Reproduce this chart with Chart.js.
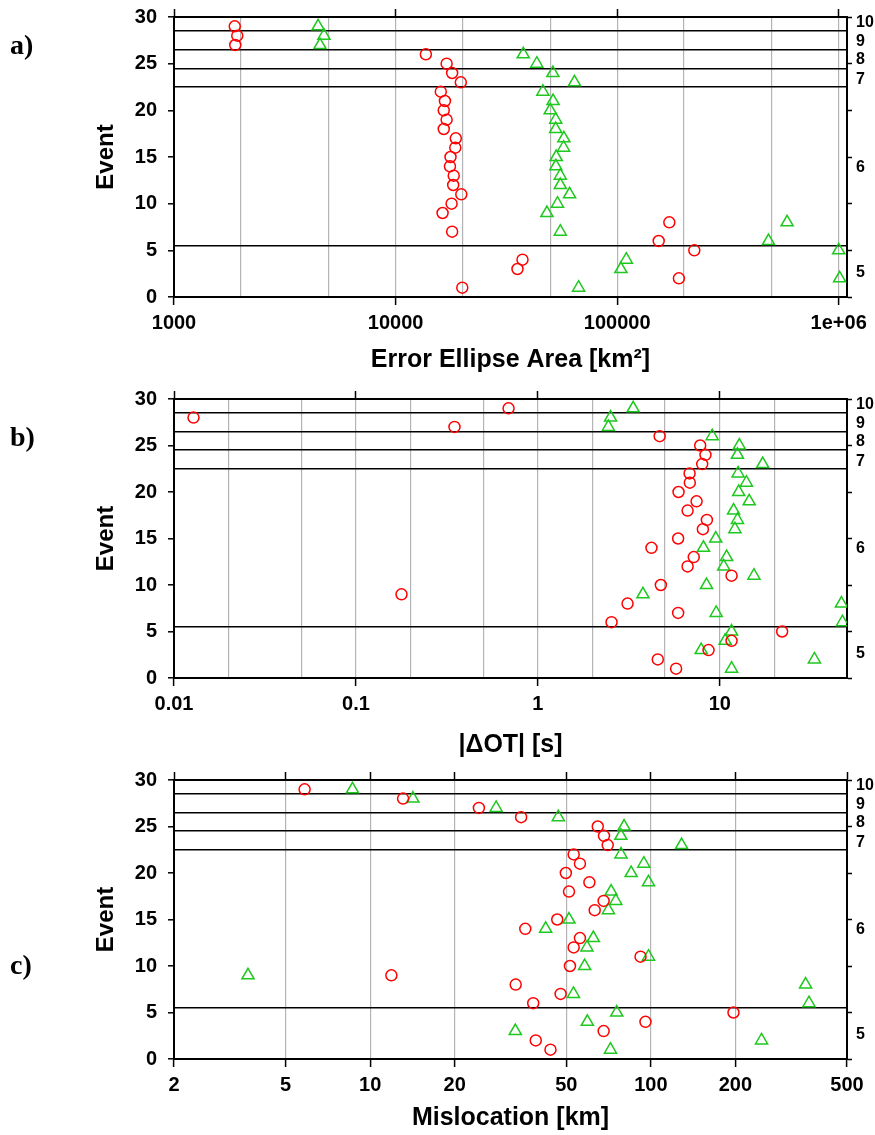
<!DOCTYPE html>
<html>
<head>
<meta charset="utf-8">
<script src="https://cdn.jsdelivr.net/npm/chart.js@4.4.0/dist/chart.umd.min.js"></script>
<style>
  body { margin: 0; background: #fff; }
  #wrap { position: relative; width: 875px; height: 1135px; }
  #wrap canvas { position: absolute; left: 0; }
  .lab { position: absolute; left: 10px; font: bold 28px "Liberation Serif", "Times New Roman", serif; line-height: 34px; }
</style>
</head>
<body>
<div id="wrap">
  <canvas id="chart-a" width="875" height="380" style="top:0px"></canvas>
  <canvas id="chart-b" width="875" height="380" style="top:380px"></canvas>
  <canvas id="chart-c" width="875" height="375" style="top:760px"></canvas>
  <div class="lab" style="top:28px">a)</div>
  <div class="lab" style="top:420px">b)</div>
  <div class="lab" style="top:948px">c)</div>
</div>
<script>
// event numbers 1..29
const events = [1,2,3,4,5,6,7,8,9,10,11,12,13,14,15,16,17,18,19,20,21,22,23,24,25,26,27,28,29];

// a) error ellipse area [km2]
const areaRed = [20000,190000,35500,37400,223000,154000,18000,172000,16300,17900,19800,18200,18300,17600,17700,
                 18600,18700,16500,17000,16500,16700,16000,19700,18000,17000,13700,1890,1930,1880];
const areaGreen = [67000,1010000,104000,110000,1000000,482000,55400,585000,48200,53800,61000,55400,55400,52900,53100,
                   57300,57500,52800,52800,49900,51400,46200,64200,51300,43400,37700,4560,4750,4470];

// b) |dOT| [s]
const dotRed = [5.75,4.56,8.67,11.6,22,2.54,5.9,3.11,0.178,4.74,11.6,6.65,7.19,4.21,5.9,
                8.07,8.49,6.65,7.45,5.93,6.84,6.82,8.0,8.34,7.8,4.67,0.348,0.0128,0.69];
const dotGreen = [11.6,33.1,7.9,10.7,11.6,47.2,9.55,46.6,3.78,8.45,15.4,10.5,10.9,8.13,9.5,
                  12.1,12.5,11.9,14.5,12.7,14.0,12.6,17.2,12.5,12.8,9.08,2.44,2.51,3.34];

// c) mislocation [km]
const misRed = [43.9,38.9,67.9,95.7,197,38.1,47.7,33,11.9,51.5,91.9,53.1,55.9,35.7,46.4,
                63.1,67.9,51.1,60.4,49.8,55.9,53.1,70.2,68.1,64.7,34.5,24.4,13.1,5.84];
const misGreen = [71.8,248,32.9,59.4,75.6,366,53,356,3.67,58.1,98.1,59.2,62.4,42.2,51.1,
                  70.6,75,72.2,98.1,85.1,94.4,78.3,128.7,78.2,80.3,46.8,28.1,14.2,8.65];

// magnitude classes on the right
const classBounds = [5.5, 22.5, 24.5, 26.5, 28.5];
const classLabels = ['5', '6', '7', '8', '9', '10'];
const classLabelPos = [2.6, 13.9, 23.3, 25.4, 27.4, 29.4];
const eventTicks = [0, 5, 10, 15, 20, 25, 30];

// x axis ticks
const areaTicks = [1000,2000,5000,10000,20000,50000,100000,200000,500000,1000000];
const areaTickLabels = {1000: '1000', 10000: '10000', 100000: '100000', 1000000: '1e+06'};
const dotTicks = [0.01,0.02,0.05,0.1,0.2,0.5,1,2,5,10,20];
const dotTickLabels = {0.01: '0.01', 0.1: '0.1', 1: '1', 10: '10'};
const misTicks = [2,5,10,20,50,100,200,500];
const misTickLabels = {2: '2', 5: '5', 10: '10', 20: '20', 50: '50', 100: '100', 200: '200', 500: '500'};

Chart.defaults.font.family = '"Liberation Sans", Arial, Helvetica, sans-serif';
Chart.defaults.font.weight = 'bold';
Chart.defaults.color = '#000';

function pts(xs) {
    return xs.map((v, i) => ({x: v, y: events[i]}));
}

// fixed box sizes so the plot areas line up with each other
function fixSize(prop, size) {
    return (s) => {
        s[prop] = size;
        s.paddingTop = 0; s.paddingBottom = 0;
        s.paddingLeft = 0; s.paddingRight = 0;
    };
}

function makePanel(id, p) {
    const isBound = (v) => classBounds.indexOf(v) >= 0;
    const isFive = (v) => eventTicks.indexOf(v) >= 0;
    const hasLabel = (v) => p.tickLabels[v] !== undefined;

    return new Chart(document.getElementById(id), {
        type: 'scatter',
        data: {
            datasets: [
                {
                    data: pts(p.red),
                    pointStyle: 'circle',
                    pointRadius: 5.5,
                    borderWidth: 1.5,
                    borderColor: '#ff0000',
                    backgroundColor: 'rgba(0,0,0,0)'
                },
                {
                    data: pts(p.green),
                    pointStyle: 'triangle',
                    pointRadius: 7,
                    borderWidth: 1.5,
                    borderColor: '#1ec81e',
                    backgroundColor: 'rgba(0,0,0,0)'
                }
            ]
        },
        options: {
            responsive: false,
            animation: false,
            devicePixelRatio: 1,
            layout: { padding: 0 },
            plugins: { legend: { display: false }, tooltip: { enabled: false } },
            scales: {
                x: {
                    type: 'logarithmic',
                    position: 'bottom',
                    min: p.min,
                    max: p.max,
                    afterBuildTicks: (s) => { s.ticks = p.ticks.map(v => ({value: v})); },
                    afterFit: fixSize('height', p.bottomH),
                    ticks: {
                        autoSkip: false, maxRotation: 0, padding: 6,
                        font: { size: 20, weight: 'bold' },
                        callback: (v) => hasLabel(v) ? p.tickLabels[v] : ''
                    },
                    grid: {
                        color: '#b4b4b4',
                        lineWidth: 1.2,
                        tickLength: 8,
                        tickWidth: 1.5,
                        tickColor: (c) => (c.tick && hasLabel(c.tick.value)) ? '#000' : 'rgba(0,0,0,0)'
                    },
                    border: { display: true, color: '#000', width: 2 },
                    title: {
                        display: true, text: p.title,
                        font: { size: 25, weight: 'bold' },
                        padding: { top: 0, bottom: p.titlePad }
                    }
                },
                x2: {
                    type: 'logarithmic',
                    position: 'top',
                    min: p.min,
                    max: p.max,
                    afterBuildTicks: (s) => { s.ticks = p.ticks.map(v => ({value: v})); },
                    afterFit: fixSize('height', p.topH),
                    ticks: { display: false, autoSkip: false },
                    grid: {
                        drawOnChartArea: false,
                        tickLength: 8,
                        tickWidth: 1.5,
                        tickColor: (c) => (c.tick && hasLabel(c.tick.value)) ? '#000' : 'rgba(0,0,0,0)'
                    },
                    border: { display: true, color: '#000', width: 2 }
                },
                y: {
                    type: 'linear',
                    position: 'left',
                    min: 0,
                    max: 30,
                    afterBuildTicks: (s) => {
                        s.ticks = eventTicks.concat(classBounds).sort((a, b) => a - b).map(v => ({value: v}));
                    },
                    afterFit: fixSize('width', 174),
                    ticks: {
                        autoSkip: false, padding: 11,
                        font: { size: 20, weight: 'bold' },
                        callback: (v) => isFive(v) ? String(v) : ''
                    },
                    grid: {
                        color: (c) => (c.tick && isBound(c.tick.value)) ? '#000' : 'rgba(0,0,0,0)',
                        lineWidth: 1.6,
                        tickLength: 6,
                        tickWidth: 1.5,
                        tickColor: (c) => (c.tick && isFive(c.tick.value)) ? '#000' : 'rgba(0,0,0,0)'
                    },
                    border: { display: true, color: '#000', width: 2 },
                    title: {
                        display: true, text: 'Event',
                        font: { size: 24, weight: 'bold' },
                        padding: { top: 92, bottom: 0 }
                    }
                },
                y2: {
                    type: 'linear',
                    position: 'right',
                    min: 0,
                    max: 30,
                    afterBuildTicks: (s) => {
                        s.ticks = eventTicks.concat(classLabelPos).sort((a, b) => a - b).map(v => ({value: v}));
                    },
                    afterFit: fixSize('width', 28),
                    ticks: {
                        autoSkip: false, padding: 4,
                        font: { size: 16, weight: 'bold' },
                        callback: (v) => {
                            const k = classLabelPos.indexOf(v);
                            return k >= 0 ? classLabels[k] : '';
                        }
                    },
                    grid: {
                        drawOnChartArea: false,
                        tickLength: 5,
                        tickWidth: 1.5,
                        tickColor: (c) => (c.tick && isFive(c.tick.value)) ? '#000' : 'rgba(0,0,0,0)'
                    },
                    border: { display: true, color: '#000', width: 2 }
                }
            }
        }
    });
}

makePanel('chart-a', {
    red: areaRed, green: areaGreen,
    min: 1000, max: 1090000,
    ticks: areaTicks, tickLabels: areaTickLabels,
    title: 'Error Ellipse Area [km\u00B2]',
    topH: 17, bottomH: 83, titlePad: 5
});

makePanel('chart-b', {
    red: dotRed, green: dotGreen,
    min: 0.01, max: 50,
    ticks: dotTicks, tickLabels: dotTickLabels,
    title: '|\u0394OT| [s]',
    topH: 19, bottomH: 82, titlePad: 0
});

makePanel('chart-c', {
    red: misRed, green: misGreen,
    min: 2, max: 500,
    ticks: misTicks, tickLabels: misTickLabels,
    title: 'Mislocation [km]',
    topH: 20, bottomH: 76, titlePad: 2
});
</script>
</body>
</html>
